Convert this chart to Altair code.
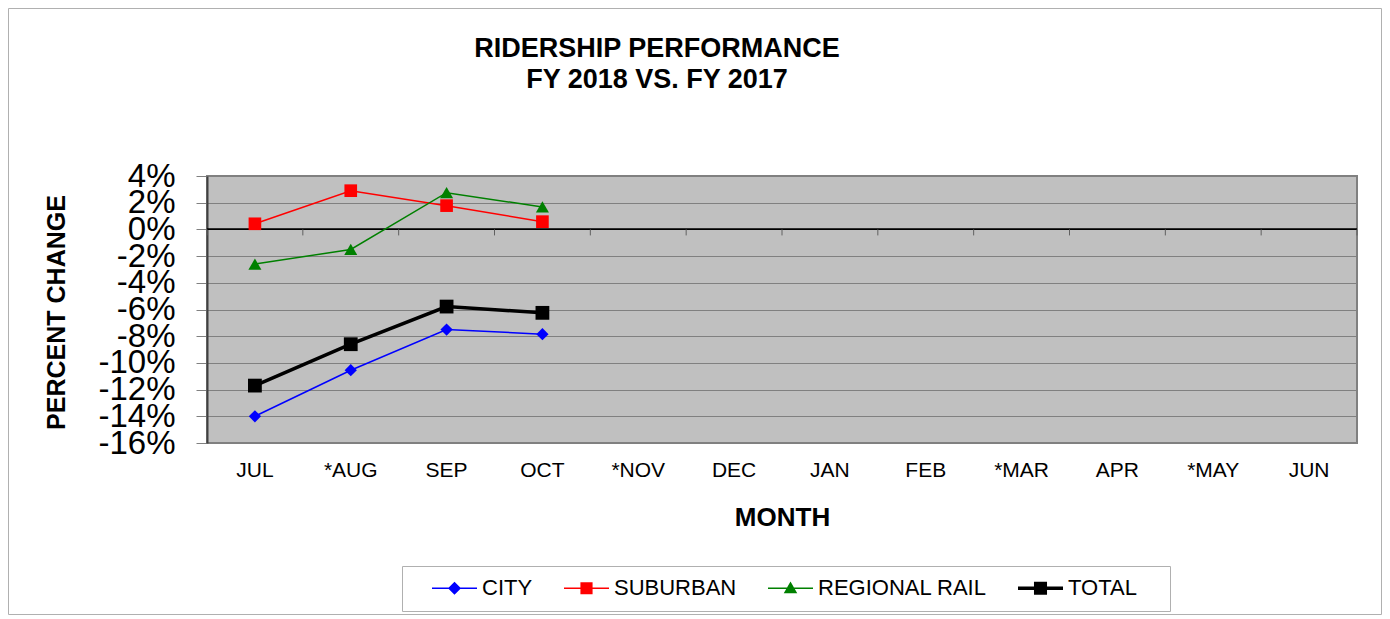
import altair as alt
import pandas as pd

months = ["JUL", "*AUG", "SEP", "OCT", "*NOV", "DEC", "JAN", "FEB", "*MAR", "APR", "*MAY", "JUN"]
series_names = ["CITY", "SUBURBAN", "REGIONAL RAIL", "TOTAL"]
observed_months = ["JUL", "*AUG", "SEP", "OCT"]
city = [-14.0, -10.55, -7.5, -7.85]
suburban = [0.42, 2.9, 1.78, 0.58]
regional = [-2.6, -1.5, 2.75, 1.68]
total = [-11.7, -8.6, -5.78, -6.25]
y_ticks = [-16, -14, -12, -10, -8, -6, -4, -2, 0, 2, 4]
colors = ["#0000FF", "#FF0000", "#008000", "#000000"]
line_widths = [1.5, 1.5, 1.5, 3.5]
marker_shapes = ["diamond", "square", "triangle-up", "square"]
marker_sizes = [150, 160, 170, 190]
title_lines = ["RIDERSHIP PERFORMANCE", "FY 2018 VS. FY 2017"]

rows = []
for name, vals in zip(series_names, [city, suburban, regional, total]):
    for m, v in zip(observed_months, vals):
        rows.append({"month": m, "series": name, "pct": v})
df = pd.DataFrame(rows)
months_df = pd.DataFrame({"month": months})

W, H = 1150, 267
PL, PT, PR, PB = 199, 168, 25, 172
FONT = "Liberation Sans"

xscale = alt.Scale(type="band", domain=months, paddingInner=0, paddingOuter=0)
yscale = alt.Scale(domain=[-16, 4], nice=False)
cscale = alt.Scale(domain=series_names, range=colors)

x_axis = alt.Axis(title="MONTH", labelFontSize=21, labelFont=FONT, labelColor="black",
                  labelAngle=0, labelAlign="center", bandPosition=0.5, labelPadding=16,
                  ticks=False, domain=False, grid=False,
                  titleFontSize=26, titleFont=FONT, titleFontWeight="bold",
                  titleColor="black", titleX=W / 2, titleY=82,
                  titleBaseline="alphabetic", titleAnchor="middle")
y_axis = alt.Axis(title="PERCENT CHANGE", values=y_ticks, labelOverlap=False,
                  labelExpr="datum.value + '%'", labelFontSize=33, labelFont=FONT,
                  labelColor="black", labelPadding=21, tickSize=11,
                  tickColor="#808080", domainColor="#404040", domainWidth=2,
                  grid=True, gridColor="#808080", gridWidth=1, gridOpacity=1,
                  titleFontSize=25, titleFont=FONT, titleFontWeight="bold",
                  titleColor="black", titleAngle=270, titleX=-143, titleY=136,
                  titleBaseline="alphabetic", titleAnchor="middle")

def X(**kw):
    return alt.X("month:N", scale=xscale, sort=months, axis=x_axis, **kw)

def Y():
    return alt.Y("pct:Q", scale=yscale, axis=y_axis)

base = alt.Chart(df)

series_layers = []
for name, col, lw, shp, sz in zip(series_names, colors, line_widths, marker_shapes, marker_sizes):
    sub = base.transform_filter(alt.datum.series == name)
    series_layers.append(sub.mark_line(color=col, strokeWidth=lw).encode(x=X(), y=Y()))
for name, col, lw, shp, sz in zip(series_names, colors, line_widths, marker_shapes, marker_sizes):
    sub = base.transform_filter(alt.datum.series == name)
    series_layers.append(sub.mark_point(filled=True, opacity=1, shape=shp, size=sz, color=col,
                                        strokeWidth=0).encode(x=X(), y=Y()))

zero = alt.Chart(months_df).mark_rule(color="black", strokeWidth=1).encode(
    y=alt.datum(0, scale=yscale, axis=y_axis), x=alt.value(0), x2=alt.value(W))

ticks = alt.Chart(months_df).mark_rule(color="#606060", strokeWidth=1).encode(
    x=X(bandPosition=0),
    y=alt.datum(0, scale=yscale, axis=y_axis), y2=alt.datum(-0.45))
ticks_end = alt.Chart(months_df).transform_filter(alt.datum.month == "JUN").mark_rule(
    color="#606060", strokeWidth=1).encode(
    x=X(bandPosition=1),
    y=alt.datum(0, scale=yscale, axis=y_axis), y2=alt.datum(-0.45))

leg_paths = [
    "M-1,-0.034H1V0.034H-1Z M0,-0.29L0.29,0L0,0.29L-0.29,0Z",
    "M-1,-0.034H1V0.034H-1Z M-0.27,-0.27H0.27V0.27H-0.27Z",
    "M-1,-0.034H1V0.034H-1Z M0,-0.3L0.3,0.22H-0.3Z",
    "M-1,-0.075H1V0.075H-1Z M-0.29,-0.29H0.29V0.29H-0.29Z",
]
legend_layer = base.transform_filter("false").mark_point(filled=True, opacity=1, size=2025).encode(
    x=X(), y=Y(),
    color=alt.Color("series:N", scale=cscale,
                    legend=alt.Legend(orient="none", legendX=225, legendY=389.5, direction="horizontal",
                                      columns=4, title=None, labelFontSize=22, labelFont=FONT,
                                      labelColor="black", symbolSize=2025, symbolStrokeWidth=0,
                                      symbolOpacity=1,
                                      columnPadding=31, labelOffset=5, padding=0, labelLimit=400)),
    shape=alt.Shape("series:N", scale=alt.Scale(domain=series_names, range=leg_paths)),
)

one = alt.Chart(months_df).transform_filter(alt.datum.month == "JUL")
frame = one.mark_rect(fill=None, stroke="#b0b0b0", strokeWidth=1).encode(
    x=alt.value(-PL + 0.5), x2=alt.value(W + PR - 0.5), y=alt.value(-PT + 0.5), y2=alt.value(H + PB - 0.5))
legend_box = one.mark_rect(fill="white", stroke="#b0b0b0", strokeWidth=1).encode(
    x=alt.value(195.5), x2=alt.value(963.5), y=alt.value(390.5), y2=alt.value(435.5))

title1 = one.mark_text(fontSize=27, font=FONT, fontWeight="bold", color="black",
                       align="center", baseline="alphabetic").encode(
    x=alt.value(450), y=alt.value(-119.5), text=alt.value(title_lines[0]))
title2 = one.mark_text(fontSize=27, font=FONT, fontWeight="bold", color="black",
                       align="center", baseline="alphabetic").encode(
    x=alt.value(450), y=alt.value(-88.5), text=alt.value(title_lines[1]))

chart = alt.layer(frame, legend_box, zero, ticks, ticks_end, *series_layers, legend_layer,
                  title1, title2).properties(
    width=W, height=H,
    autosize=alt.AutoSizeParams(type="none"),
    padding={"left": PL, "top": PT, "right": PR, "bottom": PB},
).configure(font=FONT, background="white").configure_view(fill="#C0C0C0", stroke="#808080", strokeWidth=2)

chart.save("out.html", embed_options={"renderer": "svg", "actions": False})
